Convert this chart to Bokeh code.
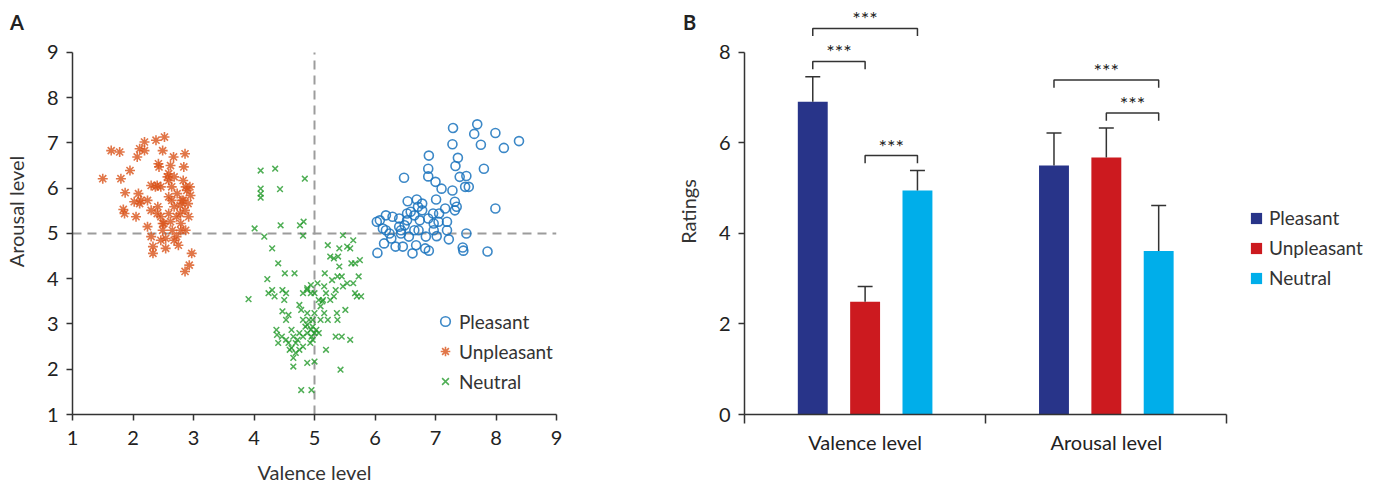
from bokeh.plotting import figure
from bokeh.models import Legend, LegendItem, FixedTicker, Div
from bokeh.layouts import row
from bokeh.core.properties import value
from bokeh.embed import file_html
from bokeh.resources import INLINE

FONT = "Lato"

# ---------------- Panel A data (valence, arousal per picture) ----------------
pleasant_x = [7.69, 7.29, 7.64, 7.99, 8.38, 7.28, 7.75, 8.13, 6.89, 7.37, 7.33, 6.88, 7.80, 6.48,
              6.88, 7.40, 7.51, 7.00, 7.10, 7.28, 7.49, 7.55, 7.01, 6.54, 6.69, 6.78, 7.99, 7.16,
              7.32, 7.35, 7.06, 6.71, 6.53, 6.18, 6.03, 6.29, 6.40, 6.53, 6.65, 6.74, 6.88, 6.97,
              7.19, 6.13, 6.24, 6.43, 6.65, 6.84, 7.02, 7.22, 7.51, 7.19, 6.15, 6.34, 6.46, 6.68,
              6.83, 6.89, 6.62, 6.04, 7.45, 7.46, 7.86, 6.40, 6.49, 6.59, 6.78, 6.96, 6.18, 6.56,
              6.43, 6.08, 6.97, 7.32, 7.05, 6.72, 6.27]
pleasant_y = [7.41, 7.33, 7.20, 7.22, 7.04, 6.97, 6.96, 6.89, 6.72, 6.67, 6.49, 6.43, 6.43, 6.23,
              6.26, 6.25, 6.27, 6.14, 5.99, 5.95, 6.03, 6.03, 5.75, 5.71, 5.75, 5.66, 5.55, 5.55,
              5.51, 5.59, 5.44, 5.59, 5.44, 5.40, 5.26, 5.37, 5.33, 5.29, 5.40, 5.29, 5.33, 5.22,
              5.26, 5.11, 5.00, 5.07, 5.07, 4.93, 4.94, 4.87, 5.00, 5.07, 4.78, 4.71, 4.71, 4.74,
              4.67, 4.62, 4.56, 4.57, 4.69, 4.62, 4.60, 5.15, 5.18, 5.48, 5.51, 5.44, 5.07, 4.93,
              5.00, 5.29, 5.07, 5.70, 5.26, 5.07, 4.89]

unpleasant_x = [1.50, 1.64, 1.78, 1.80, 1.95, 1.87, 1.84, 1.86, 2.02, 2.05, 2.09, 2.07, 2.11, 2.19,
                2.19, 2.24, 2.24, 2.30, 2.30, 2.33, 2.33, 2.38, 2.40, 2.41, 2.42, 2.43, 2.46, 2.46,
                2.49, 2.49, 2.52, 2.54, 2.54, 2.57, 2.59, 2.59, 2.59, 2.62, 2.64, 2.65, 2.67, 2.68,
                2.72, 2.73, 2.75, 2.78, 2.79, 2.83, 2.84, 2.86, 2.87, 2.89, 2.91, 2.92, 2.87, 2.83,
                2.86, 2.93, 2.97, 2.94, 2.95, 2.79, 2.68, 2.46, 2.30, 2.13, 2.78, 2.72, 2.51, 2.62,
                2.59, 2.68, 2.81, 2.86, 2.64, 2.37, 2.11, 2.40, 2.49]
unpleasant_y = [6.21, 6.83, 6.80, 6.21, 6.39, 5.90, 5.53, 5.44, 5.70, 5.37, 5.88, 6.69, 6.87, 7.02,
                6.83, 5.15, 5.73, 6.06, 4.93, 4.71, 4.56, 7.06, 6.06, 5.59, 6.54, 6.47, 6.03, 5.37,
                6.83, 5.07, 7.13, 4.89, 4.67, 6.25, 6.17, 5.81, 5.44, 5.26, 5.73, 5.07, 6.69, 5.59,
                4.93, 5.88, 4.74, 5.44, 5.22, 5.73, 6.47, 6.76, 6.03, 5.95, 5.66, 5.37, 5.07, 6.17,
                4.16, 4.30, 4.56, 6.03, 5.84, 5.07, 4.85, 4.85, 5.51, 5.73, 5.62, 5.37, 5.22, 6.50,
                6.32, 6.25, 5.73, 5.51, 6.03, 6.03, 5.66, 5.44, 5.22]

neutral_x = [4.11, 4.35, 4.84, 4.11, 4.11, 4.11, 4.43, 4.01, 4.17, 4.44, 4.82, 4.76, 4.81, 4.30,
             4.40, 3.91, 4.22, 4.51, 4.67, 4.30, 4.34, 4.53, 4.50, 4.47, 4.57, 4.75, 4.78, 4.37,
             4.38, 4.40, 4.46, 4.57, 4.62, 4.69, 4.65, 4.65, 4.72, 4.81, 4.88, 4.88, 4.94, 4.95,
             4.78, 4.95, 4.88, 4.94, 5.00, 5.05, 5.07, 5.10, 4.97, 5.00, 5.03, 5.10, 5.16, 5.14,
             5.19, 5.22, 5.19, 5.17, 5.16, 5.13, 5.22, 5.32, 5.26, 5.39, 5.47, 5.41, 5.38, 5.41,
             5.35, 5.32, 5.37, 5.38, 5.35, 5.45, 5.43, 5.47, 5.54, 5.54, 5.59, 5.64, 5.61, 5.64,
             5.67, 5.70, 5.73, 5.75, 5.77, 5.67, 5.51, 5.59, 5.26, 5.29, 5.45, 4.88, 4.91, 4.85,
             4.93, 4.81, 4.75, 4.69, 4.62, 4.88, 4.81, 5.00, 4.97, 4.75, 4.53, 4.59, 4.88, 4.81,
             4.94, 4.47, 4.24, 4.53, 5.00, 4.65, 5.07, 4.97]
neutral_y = [6.39, 6.43, 6.21, 5.99, 5.88, 5.79, 5.98, 5.11, 4.93, 5.18, 5.26, 5.18, 4.95, 4.67,
             4.34, 3.55, 3.99, 4.12, 4.12, 3.75, 3.61, 3.68, 3.53, 3.28, 3.20, 3.42, 3.31, 2.87,
             2.76, 2.58, 2.72, 2.58, 2.47, 2.36, 2.25, 2.06, 2.65, 2.72, 2.14, 2.80, 2.87, 2.72,
             1.54, 1.54, 3.79, 3.86, 3.68, 3.90, 3.53, 3.09, 3.09, 3.24, 2.87, 3.39, 3.24, 3.53,
             3.68, 3.09, 2.43, 4.12, 3.83, 3.50, 4.74, 4.45, 4.49, 4.49, 4.96, 4.67, 4.05, 4.27,
             3.75, 3.61, 3.24, 3.09, 2.72, 2.72, 1.99, 3.83, 3.90, 4.71, 4.67, 4.85, 4.34, 3.90,
             3.68, 3.61, 4.05, 4.41, 3.61, 4.34, 3.31, 2.65, 3.53, 3.97, 4.05, 3.24, 3.09, 2.94,
             2.58, 2.50, 2.80, 2.58, 2.87, 2.98, 3.09, 2.80, 2.65, 2.43, 2.65, 2.43, 3.75, 3.68,
             3.68, 3.75, 3.68, 3.09, 2.17, 2.72, 2.80, 2.94]

scatter_ticks = [1, 2, 3, 4, 5, 6, 7, 8, 9]
scatter_lo, scatter_hi, midpoint = 1, 9, 5

# ---------------- Panel B data ----------------
groups = ["Pleasant", "Unpleasant", "Neutral"]
dimensions = ["Valence level", "Arousal level"]
valence_mean = [6.91, 2.49, 4.95]
valence_sd = [0.55, 0.34, 0.44]
arousal_mean = [5.50, 5.68, 3.61]
arousal_sd = [0.72, 0.65, 1.01]
rating_ticks = [0, 2, 4, 6, 8]
# significance brackets: (dimension index, group a, group b, bracket height)
brackets = [(0, 0, 2, 8.53), (0, 0, 1, 7.80), (0, 1, 2, 5.72), (1, 0, 2, 7.39), (1, 1, 2, 6.66)]
sig_label = "***"
panel_letters = ["A", "B"]

BLUE, ORANGE, GREEN = "#1a73bd", "#d9541a", "#239a2b"
BAR_COLORS = ["#283489", "#cc1a1f", "#00aeea"]
AXIS_C = "#333333"

H = 486
TOP, BOTTOM = 8, 72


def style_axes(p):
    for ax in [p.xaxis[0], p.yaxis[0]]:
        ax.axis_line_color = AXIS_C
        ax.axis_line_width = 1.5
        ax.major_tick_line_color = AXIS_C
        ax.major_tick_line_width = 1.5
        ax.major_tick_in = 0
        ax.major_tick_out = 6
        ax.minor_tick_line_color = None
        ax.major_label_text_font = FONT
        ax.major_label_text_font_size = "20px"
        ax.major_label_text_color = "#222222"
        ax.axis_label_text_font = FONT
        ax.axis_label_text_font_size = "20px"
        ax.axis_label_text_font_style = "normal"
        ax.axis_label_text_color = "#333333"
    p.grid.visible = False
    p.outline_line_color = None


def letter_div(text, left):
    return Div(text=text, width=20, height=24, margin=(0, 0, 0, 0),
               styles={"position": "absolute", "left": f"{left}px", "top": "10px",
                       "font-family": FONT, "font-size": "20px", "font-weight": "bold",
                       "color": "#222222", "z-index": "10", "line-height": "24px"})


# ================= Panel A =================
pa = figure(width=668, height=H, x_range=(1, 9), y_range=(1, 9.97),
            output_backend="svg", toolbar_location=None,
            min_border_left=72, min_border_right=112, min_border_top=TOP, min_border_bottom=BOTTOM)
style_axes(pa)
pa.xaxis.ticker = FixedTicker(ticks=scatter_ticks)
pa.yaxis.ticker = FixedTicker(ticks=scatter_ticks)
pa.yaxis.bounds = (scatter_lo, scatter_hi)
pa.xaxis.axis_label = "Valence level"
pa.yaxis.axis_label = "Arousal level"
pa.xaxis.major_label_standoff = 10
pa.xaxis.axis_label_standoff = 12
pa.yaxis.major_label_standoff = 8
pa.yaxis.axis_label_standoff = 16

pa.segment(x0=[scatter_lo, midpoint], y0=[midpoint, scatter_lo],
           x1=[scatter_hi, midpoint], y1=[midpoint, scatter_hi],
           line_color="#9c9c9c", line_dash="9 6", line_width=2)

r_p = pa.scatter(pleasant_x, pleasant_y, marker="circle", size=9, fill_color=None,
                 line_color=BLUE, line_width=1.6, line_alpha=0.85)
r_u = pa.scatter(unpleasant_x, unpleasant_y, marker="asterisk", size=10,
                 line_color=ORANGE, line_width=1.6, line_alpha=0.8)
r_n = pa.scatter(neutral_x, neutral_y, marker="x", size=8,
                 line_color=GREEN, line_width=1.5, line_alpha=0.8)

leg_a = Legend(items=[LegendItem(label=groups[0], renderers=[r_p]),
                      LegendItem(label=groups[1], renderers=[r_u]),
                      LegendItem(label=groups[2], renderers=[r_n])],
               location=(361, 21), border_line_color=None, background_fill_alpha=0,
               padding=0, margin=0, spacing=6, glyph_width=24, glyph_height=24,
               label_height=20, label_standoff=2, label_text_font=FONT,
               label_text_font_size="19px", label_text_color="#333333")
pa.add_layout(leg_a)

# ================= Panel B =================
pb = figure(width=708, height=H, x_range=(0, 2.62), y_range=(0, 8.97),
            output_backend="svg", toolbar_location=None,
            min_border_left=76, min_border_right=0, min_border_top=TOP, min_border_bottom=BOTTOM)
style_axes(pb)
pb.yaxis.ticker = FixedTicker(ticks=rating_ticks)
pb.yaxis.bounds = (0, 8)
pb.yaxis.axis_label = "Ratings"
pb.yaxis.major_label_standoff = 8
pb.yaxis.axis_label_standoff = 16
pb.xaxis.bounds = (0, 2)
pb.xaxis.ticker = FixedTicker(ticks=[0.5, 1.5], minor_ticks=[0, 1, 2])
pb.xaxis.major_label_overrides = {0.5: dimensions[0], 1.5: dimensions[1]}
pb.xaxis.major_tick_out = 0
pb.xaxis.minor_tick_line_color = AXIS_C
pb.xaxis.minor_tick_line_width = 1.5
pb.xaxis.minor_tick_in = 0
pb.xaxis.minor_tick_out = 9
pb.xaxis.major_label_standoff = 6

offsets = [-0.217, 0.0, 0.217]
bar_w = 0.124
cap = 0.031
centers = [0.5, 1.5]
leg_items = []
for g in range(3):
    xs = [centers[0] + offsets[g], centers[1] + offsets[g]]
    tops = [valence_mean[g], arousal_mean[g]]
    sds = [valence_sd[g], arousal_sd[g]]
    errs = [t + s for t, s in zip(tops, sds)]
    r = pb.vbar(x=xs, top=tops, bottom=0, width=bar_w, fill_color=BAR_COLORS[g], line_color=None)
    leg_items.append(LegendItem(label=groups[g], renderers=[r]))
    pb.segment(x0=xs, y0=tops, x1=xs, y1=errs, line_color=AXIS_C, line_width=1.5)
    pb.segment(x0=[x - cap for x in xs], y0=errs, x1=[x + cap for x in xs], y1=errs,
               line_color=AXIS_C, line_width=1.5)

drop = 0.17
bx, by, tx, ty = [], [], [], []
for d, a, b, h in brackets:
    xa = centers[d] + offsets[a]
    xb = centers[d] + offsets[b]
    bx.append([xa, xa, xb, xb])
    by.append([h - drop, h, h, h - drop])
    tx.append((xa + xb) / 2)
    ty.append(h + 0.22)
pb.multi_line(bx, by, line_color=AXIS_C, line_width=1.5)
pb.text(x=tx, y=ty, text=[sig_label] * len(tx), text_font=value(FONT), text_font_size="20px",
        text_align="center", text_baseline="middle", text_color="#222222")

leg_b = Legend(items=leg_items, location=(505, 125), border_line_color=None,
               background_fill_alpha=0, padding=0, margin=0, spacing=7, glyph_width=14,
               glyph_height=14, label_height=20, label_standoff=6, label_text_font=FONT,
               label_text_font_size="19px", label_text_color="#333333")
pb.add_layout(leg_b)

layout = row(letter_div(panel_letters[0], 10), letter_div(panel_letters[1], 683), pa, pb)
open("out.html", "w").write(file_html(layout, INLINE))
